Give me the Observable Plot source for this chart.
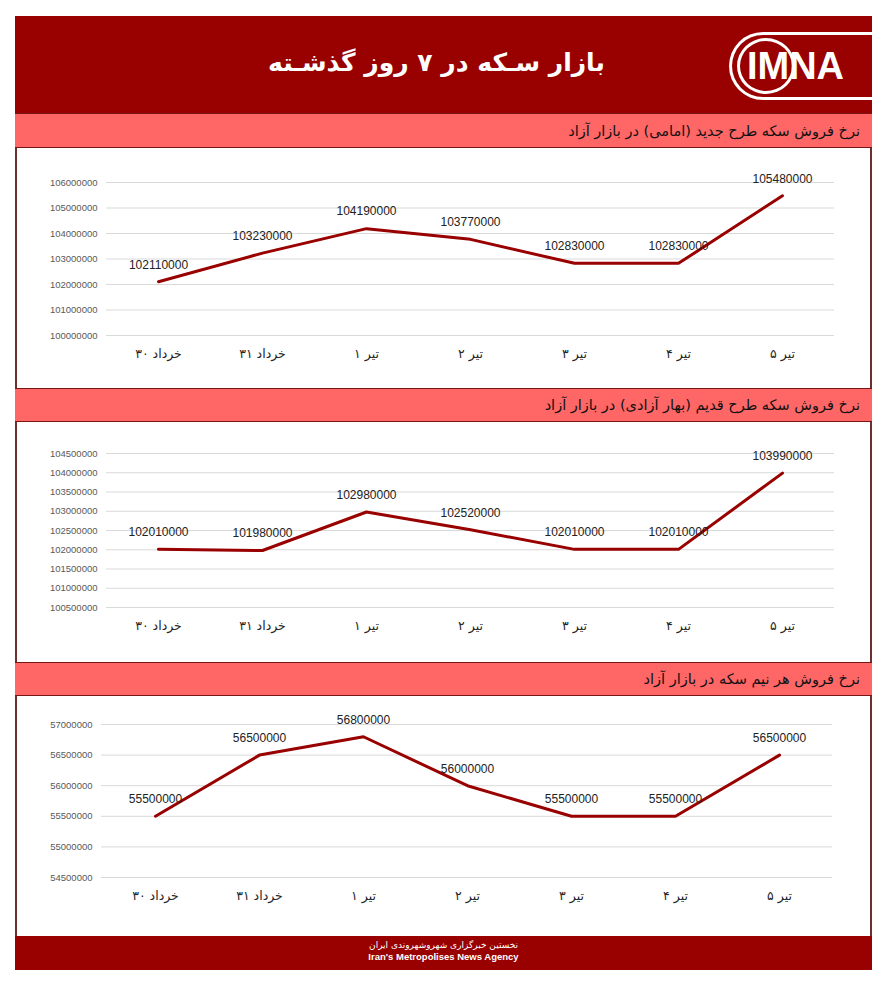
<!DOCTYPE html>
<html>
<head>
<meta charset="utf-8">
<script src="https://cdn.jsdelivr.net/npm/d3@7"></script>
<script src="https://cdn.jsdelivr.net/npm/@observablehq/plot@0.6"></script>
<style>
  html, body { margin: 0; padding: 0; background: #fff; }
  #page { position: relative; width: 888px; height: 1000px; font-family: "DejaVu Sans", "Noto Sans", sans-serif; }
  .abs { position: absolute; box-sizing: border-box; }
  .header { left: 15px; top: 16px; width: 857px; height: 97px; background: #990000; }
  .title { left: 15px; top: 14px; width: 857px; height: 97px; color: #fff; font-weight: bold; font-size: 25px;
           display: flex; align-items: center; justify-content: center; direction: rtl; padding-right: 14px; }
  .bar { left: 15px; width: 857px; background: #ff6666; border-top: 1px solid #7a1515; border-bottom: 1px solid #7a1515;
         direction: rtl; font-size: 14.5px; color: #111; padding-right: 12px; display: flex; align-items: center; }
  .panel { left: 15px; width: 857px; background: #fff; border-left: 2px solid #6e2f2f; border-right: 2px solid #6e2f2f; }
  .footer { left: 15px; top: 936px; width: 857px; height: 34px; background: #990000; color: #fff; text-align: center; }
  .logo-outer { left: 729px; top: 32px; width: 143px; height: 68px; border: 3px solid #fff; border-right: none; border-radius: 34px 0 0 34px; }
  .logo-circle { left: 737px; top: 38px; width: 58px; height: 56px; border: 3px solid #fff; border-radius: 50%; }
  .logo-text { left: 738px; top: 41px; width: 115px; height: 50px; color: #fff; font-family: "Liberation Sans", Arial, sans-serif;
               font-weight: bold; font-size: 38px; letter-spacing: 0px; line-height: 50px; text-align: center; }
</style>
</head>
<body>
<div id="page">
  <div class="abs header"></div>
  <div class="abs title">بازار سـکه در ۷ روز گذشـته</div>
  <div class="abs logo-outer"></div>
  <div class="abs logo-circle"></div>
  <div class="abs logo-text">IMNA</div>

  <div class="abs bar" style="top:113px;height:35px;">نرخ فروش سکه طرح جدید (امامی) در بازار آزاد</div>
  <div class="abs panel" id="p1" style="top:148px;height:240px;"></div>
  <div class="abs bar" style="top:388px;height:34px;">نرخ فروش سکه طرح قدیم (بهار آزادی) در بازار آزاد</div>
  <div class="abs panel" id="p2" style="top:422px;height:240px;"></div>
  <div class="abs bar" style="top:662px;height:34px;">نرخ فروش هر نیم سکه در بازار آزاد</div>
  <div class="abs panel" id="p3" style="top:696px;height:240px;"></div>

  <div class="abs footer">
    <div style="font-size:9px;margin-top:4px;direction:rtl;">نخستین خبرگزاری شهروشهروندی ایران</div>
    <div style="font-size:9.5px;font-weight:bold;font-family:'Liberation Sans',Arial,sans-serif;margin-top:1px;">Iran's Metropolises News Agency</div>
  </div>
</div>
<script>
// ---- data ----
const days = ["۳۰ خرداد", "۳۱ خرداد", "۱ تیر", "۲ تیر", "۳ تیر", "۴ تیر", "۵ تیر"];
const emamiPrices = [102110000, 103230000, 104190000, 103770000, 102830000, 102830000, 105480000];
const baharPrices = [102010000, 101980000, 102980000, 102520000, 102010000, 102010000, 103990000];
const halfPrices  = [55500000, 56500000, 56800000, 56000000, 55500000, 55500000, 56500000];
const emamiTicks = [100000000, 101000000, 102000000, 103000000, 104000000, 105000000, 106000000];
const baharTicks = [100500000, 101000000, 101500000, 102000000, 102500000, 103000000, 103500000, 104000000, 104500000];
const halfTicks  = [54500000, 55000000, 55500000, 56000000, 56500000, 57000000];

function chart(values, ticks, m) {
  const data = days.map((d, i) => ({day: d, v: values[i]}));
  return Plot.plot({
    width: 853, height: 240,
    marginLeft: m.left, marginRight: m.right, marginTop: m.top, marginBottom: m.bottom,
    style: {background: "transparent", overflow: "visible", fontFamily: "'Liberation Sans', Arial, sans-serif"},
    x: {type: "point", domain: days, padding: 0.5, label: null},
    y: {domain: [ticks[0], ticks[ticks.length - 1]], label: null},
    marks: [
      Plot.ruleY(ticks, {stroke: "#d9d9d9", strokeWidth: 1}),
      Plot.axisY({ticks: ticks, tickFormat: d => String(d), tickSize: 0, tickPadding: 9, fontSize: 9.5, color: "#595959", label: null}),
      Plot.axisX({tickSize: 0, tickPadding: 14, fontSize: 12.5, color: "#262626", label: null,
                  fontFamily: "DejaVu Sans, sans-serif"}),
      Plot.line(data, {x: "day", y: "v", stroke: "#990000", strokeWidth: 3, strokeLinejoin: "miter"}),
      Plot.text(data, {x: "day", y: "v", text: d => String(d.v), dy: -17, fontSize: 12, fill: "#222"})
    ]
  });
}

document.getElementById("p1").appendChild(chart(emamiPrices, emamiTicks, {left: 89, right: 36, top: 34, bottom: 53}));
document.getElementById("p2").appendChild(chart(baharPrices, baharTicks, {left: 89, right: 36, top: 31, bottom: 55}));
document.getElementById("p3").appendChild(chart(halfPrices, halfTicks, {left: 84, right: 38, top: 28, bottom: 59}));
</script>
</body>
</html>
